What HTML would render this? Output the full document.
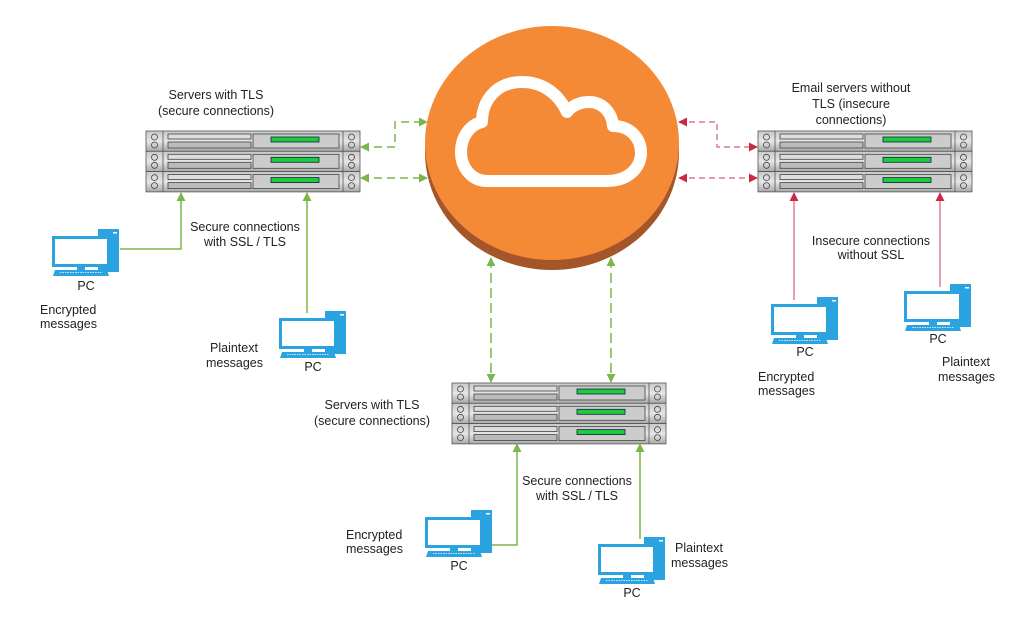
<!DOCTYPE html>
<html><head><meta charset="utf-8"><style>
html,body{margin:0;padding:0;background:#fff;}
svg{display:block;font-family:"Liberation Sans",Arial,sans-serif;}
text{font-size:12.5px;fill:#222;}
</style></head><body>
<svg width="1024" height="630" viewBox="0 0 1024 630" xmlns="http://www.w3.org/2000/svg">
<defs>
<linearGradient id="pg" x1="0" y1="0" x2="0" y2="1"><stop offset="0" stop-color="#c8c8c8"/><stop offset="0.5" stop-color="#e6e6e6"/><stop offset="1" stop-color="#a8a8a8"/></linearGradient>
<g id="row">
<rect x="0" y="0" width="214" height="20.3" fill="url(#pg)" stroke="#555" stroke-width="0.8"/>
<line x1="17" y1="0" x2="17" y2="20.3" stroke="#555" stroke-width="0.8"/>
<line x1="197" y1="0" x2="197" y2="20.3" stroke="#555" stroke-width="0.8"/>
<circle cx="8.5" cy="6" r="3" fill="none" stroke="#444" stroke-width="0.8"/>
<circle cx="8.5" cy="14" r="3" fill="none" stroke="#444" stroke-width="0.8"/>
<circle cx="205.5" cy="6" r="3" fill="none" stroke="#444" stroke-width="0.8"/>
<circle cx="205.5" cy="14" r="3" fill="none" stroke="#444" stroke-width="0.8"/>
<rect x="22" y="3" width="83" height="5" fill="#ddd" stroke="#444" stroke-width="0.8"/>
<rect x="22" y="11" width="83" height="6" fill="#bbb" stroke="#444" stroke-width="0.8"/>
<rect x="107" y="3" width="86" height="14" fill="#ccc" stroke="#444" stroke-width="0.8"/>
<rect x="125" y="6" width="48" height="5" fill="#1ecb3e" stroke="#124" stroke-width="0.8"/>
</g>
<g id="srv"><use href="#row"/><use href="#row" y="20.3"/><use href="#row" y="40.6"/></g>
<g id="pc">
<rect x="46" y="0" width="21" height="43" fill="#2ba3e0"/>
<rect x="61" y="3" width="4" height="1.5" fill="#fff"/>
<rect x="0" y="7" width="58" height="31" fill="#2ba3e0"/>
<rect x="3" y="10" width="52" height="25" fill="#fff"/>
<rect x="25" y="38" width="8" height="3" fill="#2ba3e0"/>
<path d="M3 41 H55 L57 47 H1 Z" fill="#2ba3e0"/>
<line x1="8" y1="43.5" x2="50" y2="43.5" stroke="#fff" stroke-width="0.8" stroke-dasharray="1.5 1"/>
</g>
<marker id="ga" viewBox="0 0 10 10" refX="9" refY="5" markerWidth="9" markerHeight="9" orient="auto-start-reverse" markerUnits="userSpaceOnUse"><path d="M0 0 L10 5 L0 10 Z" fill="#7ab648"/></marker>
<marker id="ra" viewBox="0 0 10 10" refX="9" refY="5" markerWidth="9" markerHeight="9" orient="auto-start-reverse" markerUnits="userSpaceOnUse"><path d="M0 0 L10 5 L0 10 Z" fill="#cc2a44"/></marker>
</defs>

<!-- cloud disk -->
<ellipse cx="552" cy="152" rx="127" ry="118" fill="#a5552a"/>
<ellipse cx="552" cy="143" rx="127" ry="117" fill="#f58a36"/>
<path d="M487 181 H607 C630 181 641 166 641 153 C641 138 630 126 613 126 C612 112 602 102 589 102 C579 102 572 106 567 112 C558 93 542 82 522 82 C496 82 482 101 482 122 C469 125 461 138 461 152 C461 168 472 181 487 181 Z" fill="none" stroke="#fff" stroke-width="12" stroke-linejoin="round"/>

<!-- servers -->
<use href="#srv" x="146" y="131"/>
<use href="#srv" x="452" y="383"/>
<use href="#srv" x="758" y="131"/>

<!-- green connectors left -->
<g fill="none" stroke="#7ab648" stroke-width="1.5">
<path d="M361 147 H395 V122 H427" stroke-dasharray="8 5" marker-start="url(#ga)" marker-end="url(#ga)"/>
<path d="M361 178 H427" stroke-dasharray="8 5" marker-start="url(#ga)" marker-end="url(#ga)"/>
<path d="M491 258 V382" stroke-dasharray="10 5" marker-start="url(#ga)" marker-end="url(#ga)"/>
<path d="M611 258 V382" stroke-dasharray="10 5" marker-start="url(#ga)" marker-end="url(#ga)"/>
<path d="M120 249 H181 V193" marker-end="url(#ga)"/>
<path d="M307 313 V193" marker-end="url(#ga)"/>
<path d="M491 545 H517 V444" marker-end="url(#ga)"/>
<path d="M640 539 V444" marker-end="url(#ga)"/>
</g>
<!-- red connectors -->
<g fill="none" stroke="#cc2a44" stroke-width="1.2" stroke-opacity="0.75">
<path d="M679 122 H717 V147 H757" stroke-dasharray="6 4" marker-start="url(#ra)" marker-end="url(#ra)"/>
<path d="M679 178 H757" stroke-dasharray="6 4" marker-start="url(#ra)" marker-end="url(#ra)"/>
<path d="M794 300 V193" marker-end="url(#ra)"/>
<path d="M940 287 V193" marker-end="url(#ra)"/>
</g>

<!-- PCs -->
<use href="#pc" x="52" y="229"/>
<use href="#pc" x="279" y="311"/>
<use href="#pc" x="425" y="510"/>
<use href="#pc" x="598" y="537"/>
<use href="#pc" x="771" y="297"/>
<use href="#pc" x="904" y="284"/>

<!-- labels -->
<g text-anchor="middle">
<text x="216" y="99">Servers with TLS</text>
<text x="216" y="115">(secure connections)</text>
<text x="245" y="231">Secure connections</text>
<text x="245" y="246">with SSL / TLS</text>
<text x="86" y="290">PC</text>
<text x="313" y="371">PC</text>
<text x="372" y="409">Servers with TLS</text>
<text x="372" y="425">(secure connections)</text>
<text x="577" y="485">Secure connections</text>
<text x="577" y="500">with SSL / TLS</text>
<text x="459" y="570">PC</text>
<text x="632" y="597">PC</text>
<text x="851" y="92">Email servers without</text>
<text x="851" y="108">TLS (insecure</text>
<text x="851" y="124">connections)</text>
<text x="871" y="245">Insecure connections</text>
<text x="871" y="259">without SSL</text>
<text x="805" y="356">PC</text>
<text x="938" y="343">PC</text>
</g>
<g>
<text x="40" y="314">Encrypted</text>
<text x="40" y="328">messages</text>
<text x="210" y="352">Plaintext</text>
<text x="206" y="367">messages</text>
<text x="346" y="539">Encrypted</text>
<text x="346" y="553">messages</text>
<text x="675" y="552">Plaintext</text>
<text x="671" y="567">messages</text>
<text x="758" y="381">Encrypted</text>
<text x="758" y="395">messages</text>
<text x="942" y="366">Plaintext</text>
<text x="938" y="381">messages</text>
</g>
</svg>
</body></html>
